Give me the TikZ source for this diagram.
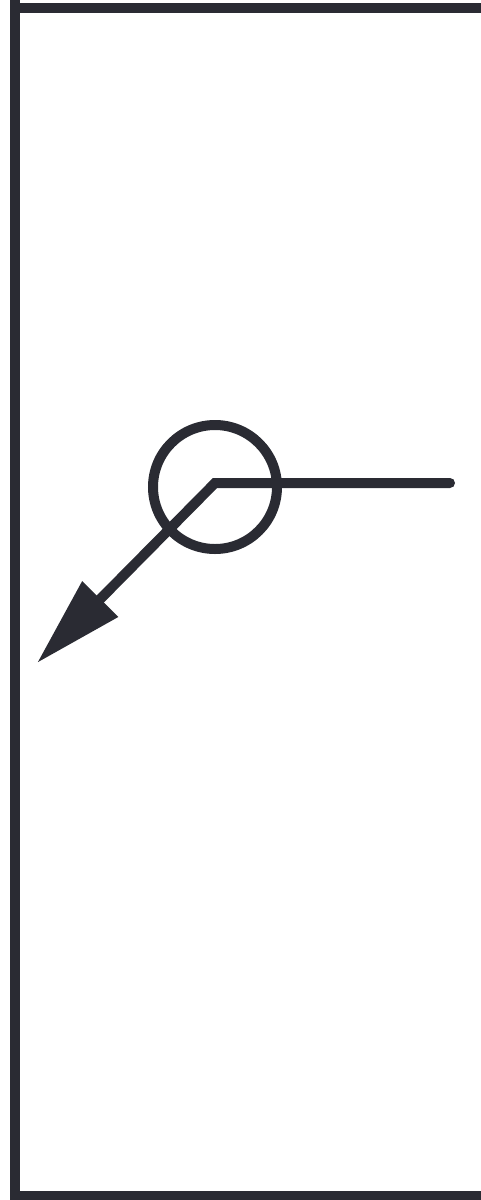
\documentclass[tikz,border=0pt]{standalone}
\usetikzlibrary{arrows.meta}
\definecolor{ink}{RGB}{42,43,51}
\tikzset{
	wall/.style = {draw = ink, line width = 5pt},
	pivot/.style = {circle, draw = ink, line width = 5pt, minimum size = 62pt, inner sep = 0pt},
	lever/.style = {draw = ink, line width = 5pt, line cap = round, -{Triangle[length = 45pt, width = 24pt]}}
}
\begin{document}
\begin{tikzpicture}[x = 0.5pt, y = -0.5pt]
		\useasboundingbox (0, 0) rectangle (481, 1200);
		% frame
		\coordinate (top) at (15, -20);
		\coordinate (bottom) at (15, 1220);
		\coordinate (topright) at (500, 8);
		\coordinate (bottomright) at (500, 1196);
		\draw[wall] (top) -- (bottom);
		\draw[wall] (15, 8) -- (topright);
		\draw[wall] (15, 1196) -- (bottomright);
		% pivot and lever
		\node[pivot] (hub) at (215, 487) {};
		\coordinate (knee) at (215, 483);
		\coordinate (handle) at (450, 483);
		\coordinate (tip) at (37, 663);
		\draw[lever] (handle) -- (knee) -- (tip);
	\end{tikzpicture}
\end{document}
